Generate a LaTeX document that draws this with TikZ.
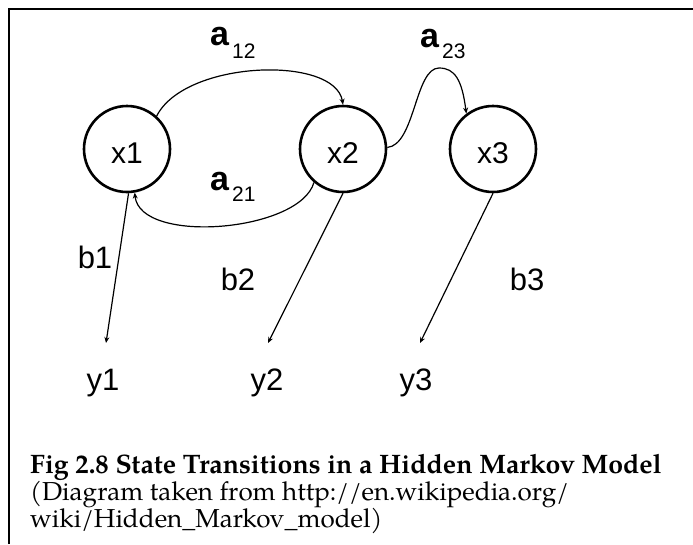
\documentclass[tikz,border=0pt]{standalone}
\usepackage{fontspec}
\setmainfont{Liberation Sans}
\newfontfamily\capfont{texgyrepagella}[Extension=.otf, UprightFont=*-regular, BoldFont=*-bold]
\usetikzlibrary{arrows.meta}
\begin{document}
\begin{tikzpicture}[x=1pt,y=-1pt,
  state/.style={circle, draw, line width=2.6pt, minimum size=86pt, inner sep=0pt,
    font=\fontsize{30}{30}\selectfont, text height=28pt, text depth=0pt},
  lbl/.style={font=\fontsize{31}{31}\selectfont, inner sep=0pt, anchor=base},
  alabel/.style={font=\fontsize{34}{34}\selectfont\bfseries, inner sep=0pt, anchor=base west},
  conn/.style={line width=1.2pt, -{Stealth[length=6pt,width=5pt]}},
  captxt/.style={inner sep=0pt, anchor=base west, font=\capfont\fontsize{26}{26}\selectfont},
]
\useasboundingbox (0,0) rectangle (693,544);
% frame
\draw[line width=2.5pt] (9,544) -- (9,9) -- (693,9);

% hidden states
\node[state] (x1) at (127,149) {x1};
\node[state] (x2) at (343,149) {x2};
\node[state] (x3) at (493,149) {x3};

% transition probabilities
\newcommand\subnum[2]{\kern3pt\raisebox{-#1pt}{\mdseries\fontsize{21}{21}\selectfont #2}}
\node[alabel] (a12) at (210,45) {a\subnum{13}{12}};
\node[alabel] (a21) at (210,190) {a\subnum{11}{21}};
\node[alabel] (a23) at (420,47) {a\subnum{11}{23}};

% transitions
\draw[conn] (x1.48) .. controls (185,60) and (335,55) .. (x2.north);
\draw[conn] (x2.229) .. controls (300,232) and (140,245) .. (x1.280);
\draw[conn] (x2.2) .. controls (415,145) and (415,68) .. (439,68)
  .. controls (455,68) and (462,80) .. (x3.127);

% observations
\node[lbl] (b1) at (95,268) {b1};
\node[lbl] (b2) at (238,290) {b2};
\node[lbl] (b3) at (527,290) {b3};
\node[lbl] (y1) at (103,390) {y1};
\node[lbl] (y2) at (267,390) {y2};
\node[lbl] (y3) at (416,390) {y3};

\coordinate (t1) at (106,343);
\coordinate (t2) at (268,343);
\coordinate (t3) at (420,343);
\draw[conn] (x1.272) -- (t1);
\draw[conn] (x2.south) -- (t2);
\draw[conn] (x3.south) -- (t3);

% caption
\node[captxt, font=\capfont\bfseries\fontsize{26.7}{26.7}\selectfont] (cap1) at (30,473)
  {Fig 2.8 State Transitions in a Hidden Markov Model};
\node[captxt] (cap2) at (30,500) {(Diagram taken from http://en.wikipedia.org/};
\node[captxt] (cap3) at (30,527) {wiki/Hidden\_Markov\_model)};
\end{tikzpicture}
\end{document}
